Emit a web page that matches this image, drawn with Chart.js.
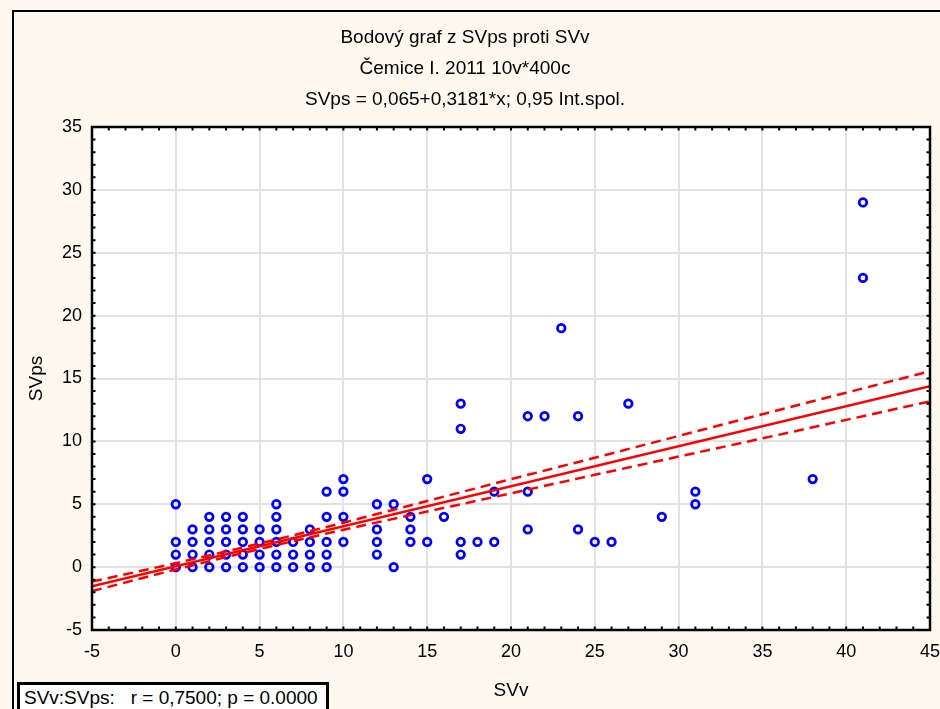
<!DOCTYPE html>
<html>
<head>
<meta charset="utf-8">
<script src="https://cdn.jsdelivr.net/npm/chart.js@4/dist/chart.umd.min.js"></script>
<style>
  html, body { margin: 0; padding: 0; background: #fdf9ee; overflow: hidden; }
  #wrap { position: relative; width: 940px; height: 709px; overflow: hidden; }
  #frame { position: absolute; left: 12px; top: 10px; width: 940px; height: 720px; border-left: 2px solid #000; border-top: 2px solid #000; }
  #chart { position: absolute; left: 0; top: 0; }
  #stats { position: absolute; left: 17px; top: 682px; width: 312px; height: 40px; box-sizing: border-box;
           border: 3px solid #000; background: #fff; font: 19px "Liberation Sans", Arial, sans-serif;
           padding: 2px 0 0 4px; white-space: pre; color: #000; }
</style>
</head>
<body>
<div id="wrap">
  <div id="frame"></div>
  <canvas id="chart" width="940" height="709"></canvas>
  <div id="stats">SVv:SVps:   r = 0,7500; p = 0.0000</div>
</div>
<script>
  // scatter points (SVv, SVps)
  const svv  = [0,0,0,0, 1,1,1,1, 2,2,2,2,2, 3,3,3,3,3, 4,4,4,4,4, 5,5,5,5, 6,6,6,6,6,6, 7,7,7, 8,8,8,8,
                9,9,9,9,9, 10,10,10,10, 12,12,12,12, 13,13, 14,14,14, 15,15, 16, 17,17,17,17, 18, 19,19,
                21,21,21, 22, 23, 24,24, 25, 26, 27, 29, 31,31, 38, 41,41];
  const svps = [0,1,2,5, 0,1,2,3, 0,1,2,3,4, 0,1,2,3,4, 0,1,2,3,4, 0,1,2,3, 0,1,2,3,4,5, 0,1,2, 0,1,2,3,
                0,1,2,4,6, 2,4,6,7, 1,2,3,5, 0,5, 2,3,4, 2,7, 4, 1,2,11,13, 2, 2,6,
                3,6,12, 12, 19, 3,12, 2, 2, 13, 4, 5,6, 7, 23,29];

  // regression SVps = 0,065 + 0,3181*x
  const intercept = 0.065;
  const slope = 0.3181;
  const lineX = [-5, 45];

  // 0,95 confidence band
  const bandX     = [-5, 0, 5, 10, 15, 20, 25, 30, 35, 40, 45];
  const bandUpper = [-1.15, 0.32, 1.88, 3.53, 5.26, 6.99, 8.70, 10.43, 12.16, 13.87, 15.58];
  const bandLower = [-1.91, -0.19, 1.44, 2.97, 4.42, 5.87, 7.34, 8.79, 10.24, 11.71, 13.18];

  const titleLines = ["Bodový graf z SVps proti SVv", "Čemice I. 2011 10v*400c", "SVps = 0,065+0,3181*x; 0,95 Int.spol."];

  const FONT = "'Liberation Sans', Arial, sans-serif";

  const framePlugin = {
    id: "frame",
    beforeDraw(chart) {
      const a = chart.chartArea, ctx = chart.ctx;
      ctx.save();
      ctx.fillStyle = "#ffffff";
      ctx.fillRect(a.left, a.top, a.right - a.left, a.bottom - a.top);
      ctx.restore();
    },
    afterDraw(chart) {
      const a = chart.chartArea, ctx = chart.ctx;
      const xs = chart.scales.x, ys = chart.scales.y;
      ctx.save();
      ctx.strokeStyle = "#000";
      ctx.lineWidth = 2;
      // minor ticks, inward, every unit
      ctx.beginPath();
      for (let v = -5; v <= 45; v++) {
        const px = xs.getPixelForValue(v);
        ctx.moveTo(px, a.bottom); ctx.lineTo(px, a.bottom - 3.5);
        ctx.moveTo(px, a.top); ctx.lineTo(px, a.top + 3.5);
      }
      for (let v = -5; v <= 35; v++) {
        const py = ys.getPixelForValue(v);
        ctx.moveTo(a.left, py); ctx.lineTo(a.left + 3.5, py);
        ctx.moveTo(a.right, py); ctx.lineTo(a.right - 3.5, py);
      }
      ctx.stroke();
      ctx.lineWidth = 2.5;
      ctx.strokeRect(a.left, a.top, a.right - a.left, a.bottom - a.top);
      ctx.restore();
    }
  };

  const points = svv.map((x, i) => ({ x: x, y: svps[i] }));
  const fit = lineX.map(x => ({ x: x, y: intercept + slope * x }));
  const upper = bandX.map((x, i) => ({ x: x, y: bandUpper[i] }));
  const lower = bandX.map((x, i) => ({ x: x, y: bandLower[i] }));

  new Chart(document.getElementById("chart"), {
    type: "scatter",
    data: {
      datasets: [
        { label: "fit", data: fit, showLine: true, borderColor: "#ff0000", borderWidth: 2.5, pointRadius: 0, order: 0 },
        { label: "upper", data: upper, showLine: true, borderColor: "#ff0000", borderWidth: 2.5, borderDash: [10, 6],
          pointRadius: 0, cubicInterpolationMode: "monotone", order: 0 },
        { label: "lower", data: lower, showLine: true, borderColor: "#ff0000", borderWidth: 2.5, borderDash: [10, 6],
          pointRadius: 0, cubicInterpolationMode: "monotone", order: 0 },
        { label: "SVps", data: points, pointRadius: 3.8, borderWidth: 2.7, pointBorderWidth: 2.7,
          borderColor: "#0000ff", pointBorderColor: "#0000ff", backgroundColor: "rgba(0,0,0,0)",
          pointBackgroundColor: "rgba(0,0,0,0)", pointHoverRadius: 3.8, order: 1 }
      ]
    },
    options: {
      responsive: false,
      animation: false,
      layout: { padding: { left: 0, right: 10, top: 0, bottom: 0 } },
      plugins: {
        legend: { display: false },
        tooltip: { enabled: false },
        title: {
          display: true,
          text: titleLines,
          color: "#000",
          font: { family: FONT, size: 19, weight: "normal", lineHeight: 31 / 19 },
          padding: { top: 22, bottom: 12 }
        }
      },
      scales: {
        x: {
          type: "linear", min: -5, max: 45,
          afterFit: s => { s.height = 79; s.paddingLeft = 0; s.paddingRight = 0; },
          ticks: { stepSize: 5, padding: 11, color: "#000", maxRotation: 0, font: { family: FONT, size: 18 } },
          grid: { color: "#e2e2e2", lineWidth: 2, drawTicks: false },
          border: { display: false },
          title: { display: true, text: "SVv", color: "#000", font: { family: FONT, size: 19 }, padding: { top: 0, bottom: 7 } }
        },
        y: {
          type: "linear", min: -5, max: 35,
          afterFit: s => { s.width = 92; s.paddingTop = 0; s.paddingBottom = 0; },
          ticks: { stepSize: 5, padding: 10, color: "#000", font: { family: FONT, size: 18 } },
          grid: { color: "#e2e2e2", lineWidth: 2, drawTicks: false },
          border: { display: false },
          title: { display: true, text: "SVps", color: "#000", font: { family: FONT, size: 19 }, padding: { top: 25, bottom: 0 } }
        }
      }
    },
    plugins: [framePlugin]
  });
</script>
</body>
</html>
